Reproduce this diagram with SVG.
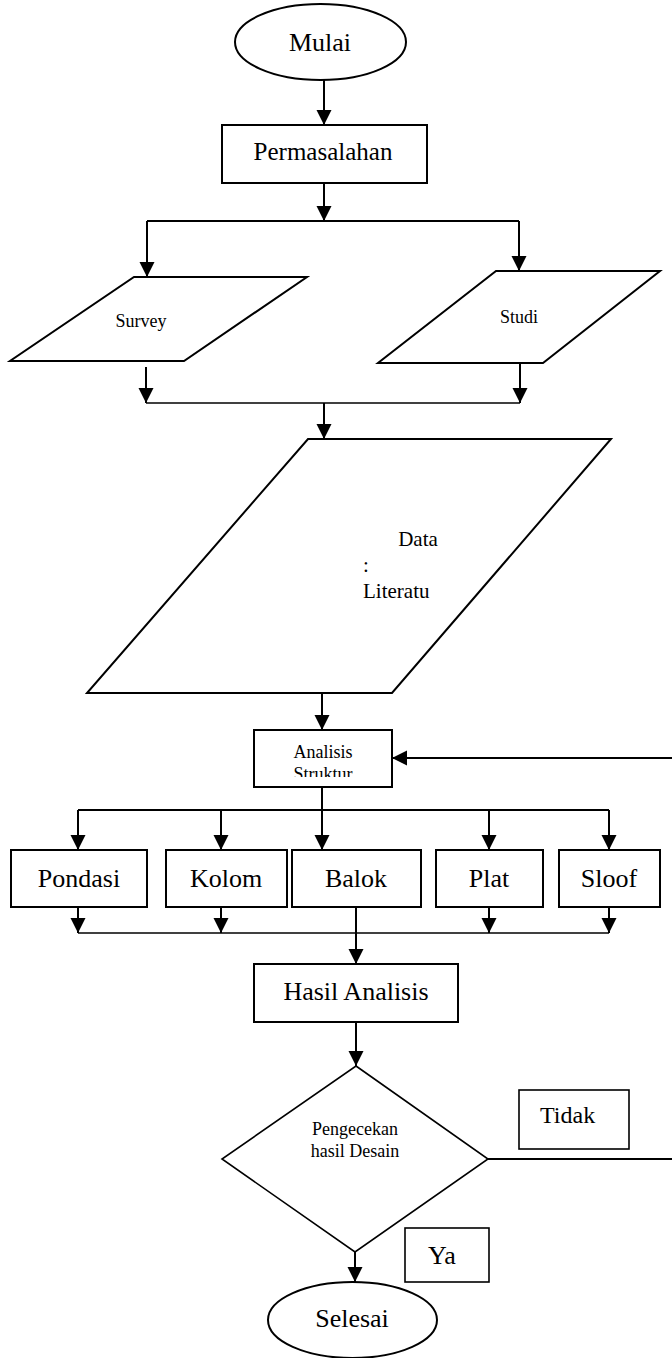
<svg xmlns="http://www.w3.org/2000/svg" width="672" height="1358" viewBox="0 0 672 1358">
<style>
.s{fill:#fff;stroke:#000;stroke-width:2}
.t{font-family:"Liberation Serif","Times New Roman",serif;fill:#000;text-anchor:middle}
.c{fill:none;stroke:#000;stroke-width:2}
.j{fill:none;stroke:#000;stroke-width:1.3}
</style>
<defs>
<marker id="ah" markerUnits="userSpaceOnUse" markerWidth="16" markerHeight="16" refX="15" refY="7.5" orient="auto">
<path d="M0,0 L15,7.5 L0,15 z" fill="#000"/>
</marker>
<clipPath id="clipA"><rect x="254" y="730" width="138" height="47"/></clipPath>
</defs>
<rect width="672" height="1358" fill="#fff"/>
<g id="connectors">
<path class="c" d="M324,80 V125" marker-end="url(#ah)"/>
<path class="c" d="M324,183 V221" marker-end="url(#ah)"/>
<path class="c" d="M147,221 H519"/>
<path class="c" d="M147,221 V277" marker-end="url(#ah)"/>
<path class="c" d="M519,221 V271" marker-end="url(#ah)"/>
<path class="c" d="M146,367 V403" marker-end="url(#ah)"/>
<path class="c" d="M520,363 V403" marker-end="url(#ah)"/>
<path class="j" d="M146,403 H520"/>
<path class="c" d="M324,403 V439" marker-end="url(#ah)"/>
<path class="c" d="M322,693 V730" marker-end="url(#ah)"/>
<path class="c" d="M322,787 V810"/>
<path class="c" d="M78,810 H609"/>
<path class="c" d="M78,810 V850" marker-end="url(#ah)"/>
<path class="c" d="M221,810 V850" marker-end="url(#ah)"/>
<path class="c" d="M322,810 V850" marker-end="url(#ah)"/>
<path class="c" d="M489,810 V850" marker-end="url(#ah)"/>
<path class="c" d="M609,810 V850" marker-end="url(#ah)"/>
<path class="c" d="M78,907 V933" marker-end="url(#ah)"/>
<path class="c" d="M221,907 V933" marker-end="url(#ah)"/>
<path class="c" d="M489,907 V933" marker-end="url(#ah)"/>
<path class="c" d="M609,907 V933" marker-end="url(#ah)"/>
<path class="j" d="M78,933 H609"/>
<path class="c" d="M356,907 V964" marker-end="url(#ah)"/>
<path class="c" d="M356,1022 V1066" marker-end="url(#ah)"/>
<path class="c" d="M355,1252 V1282" marker-end="url(#ah)"/>
<path class="c" d="M488,1159 H690 V758 H392" marker-end="url(#ah)"/>
</g>
<g id="mulai">
<ellipse class="s" cx="320.5" cy="42" rx="85.5" ry="38"/>
<text class="t" x="320" y="51" font-size="26">Mulai</text>
</g>
<g id="permasalahan">
<rect class="s" x="222" y="125" width="205" height="58"/>
<text class="t" x="323" y="160" font-size="25">Permasalahan</text>
</g>
<g id="survey">
<polygon class="s" points="134,277 307,277 184,361 10,361"/>
<text class="t" x="141" y="327" font-size="18">Survey</text>
</g>
<g id="studi">
<polygon class="s" points="496,271 660,271 543,363 378,363"/>
<text class="t" x="519" y="323" font-size="18">Studi</text>
</g>
<g id="data">
<polygon class="s" points="308,439 611,439 392,693 87,693"/>
<text class="t" x="418" y="546" font-size="21">Data</text>
<text x="363" y="572" font-size="21" font-family="Liberation Serif, serif">:</text>
<text x="363" y="598" font-size="21" font-family="Liberation Serif, serif">Literatu</text>
</g>
<g id="analisis">
<rect class="s" x="254" y="730" width="138" height="57"/>
<text class="t" x="323" y="758" font-size="18">Analisis</text>
<text class="t" x="323" y="780" font-size="18" clip-path="url(#clipA)">Struktur</text>
</g>
<g id="pondasi">
<rect class="s" x="11" y="850" width="136" height="57"/>
<text class="t" x="79" y="887" font-size="26">Pondasi</text>
</g>
<g id="kolom">
<rect class="s" x="166" y="850" width="121" height="57"/>
<text class="t" x="226" y="887" font-size="26">Kolom</text>
</g>
<g id="balok">
<rect class="s" x="292" y="850" width="129" height="57"/>
<text class="t" x="356" y="887" font-size="26">Balok</text>
</g>
<g id="plat">
<rect class="s" x="436" y="850" width="107" height="57"/>
<text class="t" x="489" y="887" font-size="26">Plat</text>
</g>
<g id="sloof">
<rect class="s" x="559" y="850" width="101" height="57"/>
<text class="t" x="609" y="887" font-size="26">Sloof</text>
</g>
<g id="hasil">
<rect class="s" x="254" y="964" width="204" height="58"/>
<text class="t" x="356" y="1000" font-size="26">Hasil Analisis</text>
</g>
<g id="pengecekan">
<polygon class="s" points="356,1066 488,1159 355,1252 222,1159" style="stroke-width:1.6"/>
<text class="t" x="355" y="1135" font-size="18">Pengecekan</text>
<text class="t" x="355" y="1157" font-size="18">hasil Desain</text>
</g>
<g id="tidak">
<rect class="s" x="519" y="1090" width="110" height="59" style="stroke-width:1.6"/>
<text x="540" y="1123" font-size="24" font-family="Liberation Serif, serif">Tidak</text>
</g>
<g id="ya">
<rect class="s" x="405" y="1228" width="84" height="54" style="stroke-width:1.6"/>
<text x="428" y="1264" font-size="26" font-family="Liberation Serif, serif">Ya</text>
</g>
<g id="selesai">
<ellipse class="s" cx="352.5" cy="1320" rx="84.5" ry="38"/>
<text class="t" x="352" y="1327" font-size="26">Selesai</text>
</g>
</svg>
